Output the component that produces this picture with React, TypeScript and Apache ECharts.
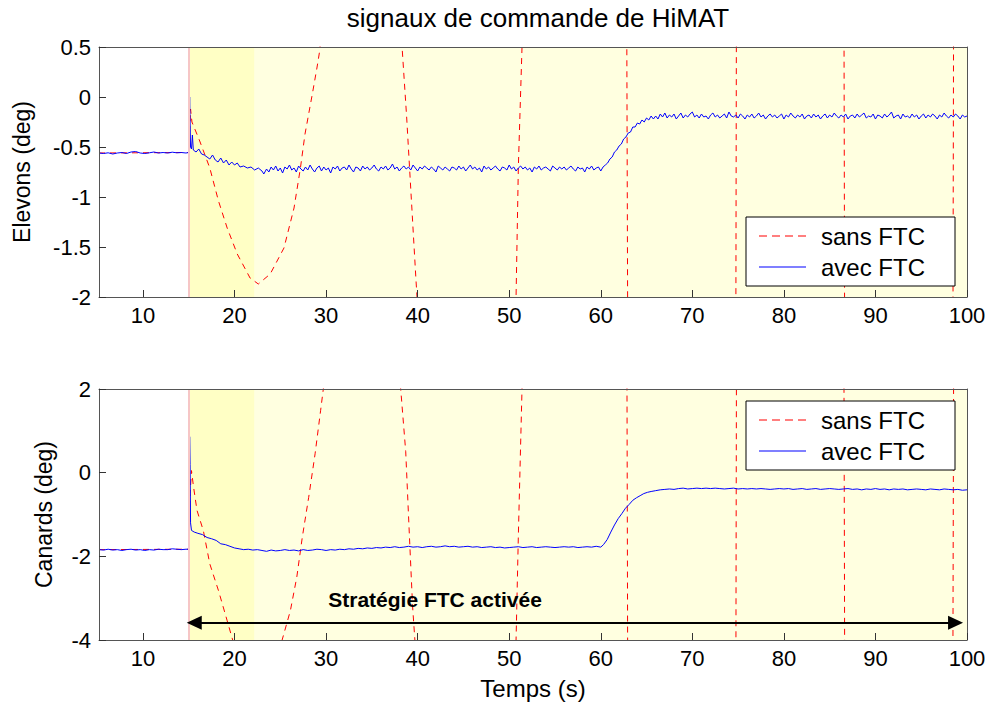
import React, { useEffect, useRef } from "react";
import * as echarts from "echarts";

const FONT = "'Liberation Sans', Arial, Helvetica, sans-serif";

const titleText = "signaux de commande de HiMAT";
const seriesNames = ["sans FTC", "avec FTC"];
const xName = "Temps (s)";
const yNameTop = "Elevons (deg)";
const yNameBottom = "Canards (deg)";
const annotationText = "Stratégie FTC activée";

// Time span of the records and shaded phases (s)
const timeRange = [5.2, 100];
const faultTime = 15;
const phaseSplit = 22.2;
const arrowSpan = [15.6, 98.75];
const arrowLevel = -3.59;
const annotationPos = [41.9, -3.04];

// Sampling step of the noisy recorded stretches (s)
const sampleStep = 0.25;

// Elevons (deg) – avec FTC: before the fault and the transient after it
const elevAvecStart = [
  [5.2,-0.56],[5.7,-0.565],[6.2,-0.558],[6.7,-0.57],[7.2,-0.56],[7.7,-0.555],[8.2,-0.565],[8.7,-0.55],[9.2,-0.545],[9.7,-0.56],
  [10.2,-0.565],[10.7,-0.558],[11.2,-0.55],[11.7,-0.56],[12.2,-0.555],[12.7,-0.56],[13.2,-0.552],[13.7,-0.558],[14.2,-0.555],[14.7,-0.56],
  [15.0,-0.555],[15.05,-0.3],[15.1,0.0],[15.2,-0.5],[15.3,-0.52],[15.4,-0.38],[15.5,-0.53],[15.8,-0.55],[16.1,-0.52],[16.4,-0.57],
  [16.7,-0.58],[17.0,-0.6],[17.3,-0.62],[17.6,-0.58],[17.9,-0.63],[18.2,-0.65],[18.5,-0.61],[18.8,-0.66],[19.1,-0.63],[19.4,-0.68],
  [19.7,-0.65],[20.0,-0.68],[20.3,-0.66],[20.6,-0.7],[21.0,-0.69],[21.4,-0.71],[21.8,-0.7],[22.2,-0.73],[22.6,-0.71],[23.0,-0.74],
  [23.2,-0.77]
];
// Elevons – avec FTC, plateau from 23.5 s to 60 s, one value every sampleStep
const elevPlateauStart = 23.5;
const elevPlateau = [
  -0.72,-0.75,-0.70,-0.73,-0.69,-0.74,-0.71,-0.76,-0.70,-0.72,
  -0.68,-0.73,-0.71,-0.75,-0.69,-0.72,-0.74,-0.70,-0.73,-0.68,
  -0.72,-0.75,-0.71,-0.69,-0.74,-0.70,-0.73,-0.71,-0.76,-0.70,
  -0.72,-0.69,-0.74,-0.71,-0.70,-0.73,-0.68,-0.72,-0.75,-0.70,
  -0.71,-0.74,-0.69,-0.72,-0.70,-0.73,-0.71,-0.68,-0.72,-0.74,
  -0.70,-0.72,-0.69,-0.73,-0.71,-0.67,-0.72,-0.70,-0.74,-0.71,
  -0.69,-0.72,-0.70,-0.73,-0.68,-0.71,-0.74,-0.70,-0.72,-0.69,
  -0.71,-0.73,-0.70,-0.72,-0.75,-0.69,-0.71,-0.73,-0.70,-0.72,
  -0.74,-0.70,-0.71,-0.73,-0.69,-0.72,-0.70,-0.74,-0.71,-0.68,
  -0.72,-0.70,-0.73,-0.71,-0.75,-0.69,-0.72,-0.70,-0.73,-0.71,
  -0.69,-0.72,-0.74,-0.70,-0.71,-0.73,-0.68,-0.72,-0.70,-0.74,
  -0.71,-0.69,-0.72,-0.70,-0.73,-0.71,-0.75,-0.70,-0.72,-0.69,
  -0.73,-0.71,-0.70,-0.72,-0.74,-0.69,-0.71,-0.73,-0.70,-0.72,
  -0.70,-0.73,-0.71,-0.69,-0.72,-0.74,-0.70,-0.72,-0.71,-0.75,
  -0.70,-0.72,-0.69,-0.73,-0.71,-0.70,-0.74
];
// Elevons – avec FTC, rise after 60 s
const elevRise = [
  [60.25,-0.70],[60.5,-0.68],[60.75,-0.66],[61.0,-0.62],[61.25,-0.60],[61.5,-0.55],[61.75,-0.53],[62.0,-0.49],[62.25,-0.47],[62.5,-0.42],
  [62.75,-0.40],[63.0,-0.36],[63.25,-0.35],[63.5,-0.30],[63.75,-0.30],[64.0,-0.26],[64.25,-0.27],[64.5,-0.23],[64.75,-0.25],[65.0,-0.21],
  [65.25,-0.23],[65.5,-0.19],[65.75,-0.22]
];
// Elevons – avec FTC, second plateau from 66 s to 100 s, one value every sampleStep
const elevPlateau2Start = 66.0;
const elevPlateau2 = [
  -0.19,-0.22,-0.17,-0.20,-0.16,-0.21,-0.18,-0.20,-0.17,-0.22,
  -0.19,-0.16,-0.21,-0.18,-0.20,-0.17,-0.15,-0.20,-0.18,-0.21,
  -0.17,-0.20,-0.19,-0.22,-0.18,-0.16,-0.20,-0.18,-0.21,-0.19,
  -0.17,-0.21,-0.15,-0.19,-0.20,-0.18,-0.21,-0.17,-0.19,-0.22,
  -0.18,-0.20,-0.17,-0.21,-0.19,-0.16,-0.20,-0.18,-0.22,-0.19,
  -0.17,-0.20,-0.18,-0.21,-0.19,-0.17,-0.22,-0.18,-0.20,-0.16,
  -0.19,-0.21,-0.18,-0.20,-0.17,-0.22,-0.19,-0.18,-0.21,-0.17,
  -0.20,-0.18,-0.22,-0.19,-0.17,-0.21,-0.18,-0.20,-0.16,-0.19,
  -0.21,-0.18,-0.20,-0.17,-0.22,-0.19,-0.18,-0.21,-0.17,-0.20,
  -0.18,-0.16,-0.21,-0.19,-0.20,-0.17,-0.22,-0.18,-0.19,-0.21,
  -0.17,-0.20,-0.18,-0.15,-0.21,-0.19,-0.18,-0.22,-0.17,-0.20,
  -0.19,-0.21,-0.17,-0.20,-0.18,-0.22,-0.19,-0.17,-0.21,-0.18,
  -0.20,-0.17,-0.19,-0.22,-0.18,-0.20,-0.16,-0.19,-0.21,-0.18,
  -0.20,-0.17,-0.19,-0.22,-0.18,-0.20,-0.19
];

// Elevons (deg) – sans FTC (diverging oscillation, leaves the axes range)
const elevSans = [
  [5.2,-0.56],[15.0,-0.555],[15.2,-0.12],[15.35,-0.25],[16.2,-0.44],[17.3,-0.71],[18.25,-1.04],[19.2,-1.31],[20.3,-1.57],[21.7,-1.81],
  [22.6,-1.87],[23.9,-1.77],[25.4,-1.51],[26.5,-1.11],[27.2,-0.71],[27.7,-0.37],[28.5,0.03],[29.0,0.29],[29.3,0.46],[30.0,1.2],
  [33.5,8],[37.6,1.3],[38.3,0.5],[38.8,-0.2],[39.3,-1.0],[39.8,-1.8],[40.0,-2.1],[41.0,-4],[45.5,-20],[50.5,-3],
  [50.75,-2.0],[51.0,-0.7],[51.4,0.5],[51.6,1.5],[57.0,40],[62.83,1.0],[62.95,-2.5],[69.0,-80],[74.75,-2.5],[74.82,1.0],
  [80.7,150],[86.56,1.0],[86.64,-2.5],[92.5,-250],[98.46,-2.5],[98.54,1.0],[100.0,60]
];

// Canards (deg) – avec FTC
const canAvec = [
  [5.2,-1.84],[5.7,-1.85],[6.2,-1.83],[6.7,-1.85],[7.2,-1.84],[7.7,-1.86],[8.2,-1.84],[8.7,-1.83],[9.2,-1.85],[9.7,-1.84],
  [10.2,-1.86],[10.7,-1.84],[11.2,-1.85],[11.7,-1.83],[12.2,-1.84],[12.7,-1.84],[13.2,-1.82],[13.7,-1.83],[14.2,-1.84],[14.7,-1.83],
  [15.0,-1.83],[15.05,-1.0],[15.1,0.86],[15.15,0.2],[15.2,-1.2],[15.3,-1.38],[15.6,-1.42],[16.0,-1.45],[16.5,-1.48],[17.0,-1.55],
  [17.5,-1.58],[18.0,-1.62],[18.5,-1.7],[19.0,-1.72],[19.5,-1.76],[20.0,-1.8],[20.5,-1.82],[21.0,-1.84],[21.5,-1.83],[22.0,-1.85],
  [22.5,-1.84],[23.0,-1.86],[23.5,-1.88],[24.0,-1.85],[24.5,-1.87],[25.0,-1.86],[25.5,-1.84],[26.0,-1.86],[26.5,-1.85],[27.0,-1.87],
  [27.5,-1.84],[28.0,-1.86],[28.5,-1.85],[29.0,-1.83],[29.5,-1.84],[30.0,-1.86],[30.5,-1.84],[31.0,-1.85],[31.5,-1.83],[32.0,-1.84],
  [32.5,-1.82],[33.0,-1.83],[33.5,-1.81],[34.0,-1.82],[34.5,-1.8],[35.0,-1.81],[35.5,-1.79],[36.0,-1.8],[36.5,-1.78],[37.0,-1.79],
  [37.5,-1.77],[38.0,-1.79],[38.5,-1.78],[39.0,-1.76],[39.5,-1.78],[40.0,-1.77],[40.5,-1.79],[41.0,-1.77],[41.5,-1.76],[42.0,-1.78],
  [42.5,-1.77],[43.0,-1.75],[43.5,-1.77],[44.0,-1.76],[44.5,-1.78],[45.0,-1.77],[45.5,-1.76],[46.0,-1.78],[46.5,-1.77],[47.0,-1.79],
  [47.5,-1.78],[48.0,-1.77],[48.5,-1.79],[49.0,-1.78],[49.5,-1.8],[50.0,-1.79],[50.5,-1.78],[51.0,-1.77],[51.5,-1.79],[52.0,-1.78],
  [52.5,-1.77],[53.0,-1.79],[53.5,-1.78],[54.0,-1.77],[54.5,-1.78],[55.0,-1.79],[55.5,-1.78],[56.0,-1.77],[56.5,-1.78],[57.0,-1.77],
  [57.5,-1.79],[58.0,-1.78],[58.5,-1.77],[59.0,-1.78],[59.5,-1.76],[60.0,-1.78],[60.3,-1.72],[60.7,-1.6],[61.1,-1.42],[61.5,-1.25],
  [61.9,-1.1],[62.3,-0.98],[62.7,-0.85],[63.1,-0.76],[63.5,-0.66],[63.9,-0.6],[64.3,-0.55],[64.7,-0.5],[65.1,-0.47],[65.5,-0.45],
  [66.0,-0.43],[66.5,-0.41],[67.0,-0.4],[67.5,-0.39],[68.0,-0.4],[68.5,-0.38],[69.0,-0.37],[69.5,-0.39],[70.0,-0.38],[70.5,-0.37],
  [71.0,-0.38],[71.5,-0.37],[72.0,-0.38],[72.5,-0.37],[73.0,-0.38],[73.5,-0.39],[74.0,-0.38],[74.5,-0.37],[75.0,-0.39],[75.5,-0.38],
  [76.0,-0.39],[76.5,-0.38],[77.0,-0.39],[77.5,-0.38],[78.0,-0.39],[78.5,-0.4],[79.0,-0.39],[79.5,-0.38],[80.0,-0.39],[80.5,-0.38],
  [81.0,-0.4],[81.5,-0.39],[82.0,-0.38],[82.5,-0.4],[83.0,-0.39],[83.5,-0.38],[84.0,-0.4],[84.5,-0.39],[85.0,-0.38],[85.5,-0.39],
  [86.0,-0.4],[86.5,-0.39],[87.0,-0.38],[87.5,-0.4],[88.0,-0.39],[88.5,-0.41],[89.0,-0.39],[89.5,-0.4],[90.0,-0.38],[90.5,-0.4],
  [91.0,-0.39],[91.5,-0.41],[92.0,-0.39],[92.5,-0.4],[93.0,-0.39],[93.5,-0.41],[94.0,-0.4],[94.5,-0.39],[95.0,-0.4],[95.5,-0.41],
  [96.0,-0.39],[96.5,-0.4],[97.0,-0.41],[97.5,-0.39],[98.0,-0.4],[98.5,-0.41],[99.0,-0.4],[99.5,-0.42],[100.0,-0.41]
];

// Canards (deg) – sans FTC
const canSans = [
  [5.2,-1.84],[15.0,-1.83],[15.15,-0.5],[15.3,0.05],[15.5,-0.3],[15.9,-0.9],[16.6,-1.39],[17.3,-2.18],[18.25,-2.82],[19.2,-3.54],
  [19.8,-4.0],[20.5,-4.8],[22.5,-6],[24.5,-4.8],[25.2,-4.0],[26.1,-3.3],[26.8,-2.5],[27.4,-1.55],[28.1,-0.59],[28.8,0.45],
  [29.4,1.48],[29.7,2.0],[30.2,3],[34.0,15],[37.6,3],[38.15,2.0],[38.7,0.5],[39.1,-1.5],[39.45,-3.2],[39.7,-4.0],
  [40.0,-5],[45.5,-40],[50.5,-5],[50.75,-4],[51.0,-1.5],[51.4,2],[51.6,4],[57.0,80],[62.86,2.5],[62.94,-4.5],
  [69.0,-150],[74.76,-4.5],[74.82,2.5],[80.7,300],[86.56,2.5],[86.64,-4.5],[92.5,-500],[98.46,-4.5],[98.54,2.5],[100.0,100]
];

// Attach sample times to the evenly sampled plateau readings
function sampled(start: number, values: number[]) {
  return values.map((v, i) => [+(start + i * sampleStep).toFixed(2), v]);
}
const elevAvec = [
  ...elevAvecStart,
  ...sampled(elevPlateauStart, elevPlateau),
  ...elevRise,
  ...sampled(elevPlateau2Start, elevPlateau2),
];

const axisColor = "#555";
const tickLabel = { color: "#000", fontSize: 22, fontFamily: FONT };

function xAxes(gridIndex: number, showName: boolean) {
  return [
    {
      type: "value", gridIndex, position: "bottom", min: timeRange[0], max: timeRange[1],
      minInterval: 10, maxInterval: 10, z: 10,
      axisLine: { show: true, onZero: false, lineStyle: { color: axisColor, width: 1 } },
      axisTick: { show: true, inside: true, length: 7, lineStyle: { color: "#333" } },
      axisLabel: { ...tickLabel, margin: 7, showMinLabel: false },
      splitLine: { show: false },
      name: showName ? xName : "", nameLocation: "middle", nameGap: 36,
      nameTextStyle: { color: "#000", fontSize: 24, fontFamily: FONT },
    },
    {
      type: "value", gridIndex, position: "top", min: timeRange[0], max: timeRange[1],
      minInterval: 10, maxInterval: 10, z: 10,
      axisLine: { show: true, onZero: false, lineStyle: { color: axisColor, width: 1 } },
      axisTick: { show: false }, axisLabel: { show: false }, splitLine: { show: false },
    },
  ];
}

function yAxes(gridIndex: number, min: number, max: number, interval: number, name: string, nameGap: number) {
  return [
    {
      type: "value", gridIndex, position: "left", min, max, interval, z: 10,
      axisLine: { show: true, onZero: false, lineStyle: { color: axisColor, width: 1 } },
      axisTick: { show: true, inside: true, length: 7, lineStyle: { color: "#333" } },
      axisLabel: { ...tickLabel, margin: 8 },
      splitLine: { show: false },
      name, nameLocation: "middle", nameGap, nameRotate: 90,
      nameTextStyle: { color: "#000", fontSize: 23, fontFamily: FONT },
    },
    {
      type: "value", gridIndex, position: "right", min, max, interval, z: 10,
      axisLine: { show: true, onZero: false, lineStyle: { color: axisColor, width: 1 } },
      axisTick: { show: false }, axisLabel: { show: false }, splitLine: { show: false },
    },
  ];
}

function shading(xAxisIndex: number, yAxisIndex: number) {
  return {
    type: "line", name: "phases", data: [], xAxisIndex, yAxisIndex, z: 1, silent: true,
    markArea: {
      silent: true,
      data: [
        [{ xAxis: faultTime, itemStyle: { color: "#FFFFC5" } }, { xAxis: phaseSplit }],
        [{ xAxis: phaseSplit, itemStyle: { color: "#FFFFE0" } }, { xAxis: timeRange[1] }],
      ],
    },
    markLine: {
      silent: true, symbol: ["none", "none"], label: { show: false },
      lineStyle: { color: "#F6C6C6", width: 2, type: "solid" },
      data: [{ xAxis: faultTime }],
    },
  };
}

const dashedIcon = "path://M0,0h8v1h-8zM13,0h8v1h-8zM26,0h8v1h-8zM39,0h8v1h-8z";
const solidIcon = "path://M0,0h47v1h-47z";

function legend(top: number) {
  return {
    data: [
      { name: seriesNames[0], icon: dashedIcon },
      { name: seriesNames[1], icon: solidIcon },
    ],
    orient: "vertical", left: 746, top,
    itemWidth: 47, itemHeight: 1.5, itemGap: 7, padding: [7, 30, 7, 13],
    backgroundColor: "#fff", borderColor: "#000", borderWidth: 1, borderRadius: 0,
    textStyle: { color: "#000", fontSize: 24, lineHeight: 22, fontFamily: FONT, padding: [0, 0, 0, 10] },
    selectedMode: false,
  };
}

const redLine = { color: "#FF0000", width: 1, type: [6, 5] };
const blueLine = { color: "#0000FF", width: 1, type: "solid" };

export default function App() {
  const ref = useRef<HTMLDivElement>(null);
  useEffect(() => {
    if (!ref.current) return;
    const chart = echarts.init(ref.current, null, { renderer: "svg" });
    chart.setOption({
      animation: false,
      backgroundColor: "#fff",
      title: {
        text: titleText, left: 533, top: 0, textAlign: "center",
        textStyle: { color: "#000", fontSize: 26, fontWeight: "normal", fontFamily: FONT },
      },
      legend: [legend(217), legend(401)],
      grid: [
        { left: 99, top: 47, width: 868, height: 250, containLabel: false },
        { left: 99, top: 389, width: 868, height: 251, containLabel: false },
      ],
      xAxis: [...xAxes(0, false), ...xAxes(1, true)],
      yAxis: [...yAxes(0, -2, 0.5, 0.5, yNameTop, 66), ...yAxes(1, -4, 2, 2, yNameBottom, 44)],
      series: [
        shading(0, 0),
        shading(2, 2),
        {
          type: "line", name: seriesNames[0], data: elevSans, xAxisIndex: 0, yAxisIndex: 0, z: 3,
          symbol: "none", clip: true, lineStyle: redLine, itemStyle: { color: "#FF0000" },
        },
        {
          type: "line", name: seriesNames[1], data: elevAvec, xAxisIndex: 0, yAxisIndex: 0, z: 4,
          symbol: "none", clip: true, lineStyle: blueLine, itemStyle: { color: "#0000FF" },
        },
        {
          type: "line", name: seriesNames[0], data: canSans, xAxisIndex: 2, yAxisIndex: 2, z: 3,
          symbol: "none", clip: true, lineStyle: redLine, itemStyle: { color: "#FF0000" },
        },
        {
          type: "line", name: seriesNames[1], data: canAvec, xAxisIndex: 2, yAxisIndex: 2, z: 4,
          symbol: "none", clip: true, lineStyle: blueLine, itemStyle: { color: "#0000FF" },
          markLine: {
            silent: true, symbol: ["triangle", "triangle"], symbolSize: [14, 15],
            label: { show: false },
            lineStyle: { color: "#000", width: 2, type: "solid" },
            itemStyle: { color: "#000" },
            data: [[{ coord: [arrowSpan[0], arrowLevel] }, { coord: [arrowSpan[1], arrowLevel] }]],
          },
          markPoint: {
            silent: true, symbol: "rect", symbolSize: [1, 1], itemStyle: { color: "rgba(0,0,0,0)" },
            label: {
              show: true, position: "inside", formatter: annotationText,
              color: "#000", fontSize: 21, fontWeight: "bold", fontFamily: FONT,
            },
            data: [{ coord: annotationPos }],
          },
        },
      ],
    });
    return () => chart.dispose();
  }, []);
  return (
    <div
      ref={ref}
      style={{ position: "absolute", left: 0, top: 0, width: 992, height: 702, background: "#fff" }}
    />
  );
}
